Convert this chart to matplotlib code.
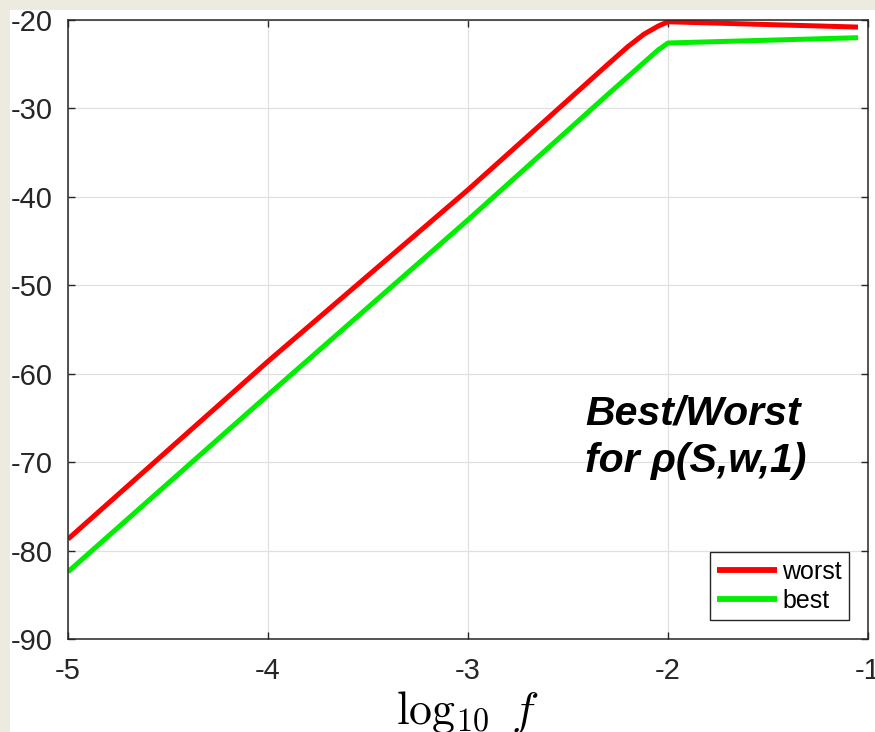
from matplotlib import pyplot as plt
from matplotlib.patches import Rectangle
import numpy as np

# log10 f and level readings for the two curves
log_f = [-5.0, -4.0, -3.0, -2.3, -2.2, -2.12, -2.05, -2.0, -1.05]
worst = [-78.7, -58.6, -39.2, -25.0, -23.0, -21.6, -20.7, -20.2, -20.8]
best = [-82.4, -62.4, -42.6, -28.4, -26.4, -24.8, -23.4, -22.6, -22.0]

x_ticks = [-5, -4, -3, -2, -1]
y_ticks = [-90, -80, -70, -60, -50, -40, -30, -20]

plt.rcParams['font.family'] = ['Liberation Sans', 'DejaVu Sans']
plt.rcParams['mathtext.fontset'] = 'cm'

fig = plt.figure(figsize=(8.75, 7.32), dpi=100)
fig.patch.set_facecolor('#edeae0')
fig.patches.append(Rectangle((10 / 875, 0), 1, 1 - 10 / 732, transform=fig.transFigure,
                             facecolor='white', edgecolor='none', zorder=-1))

ax = fig.add_axes([68 / 875, 1 - 639 / 732, 800 / 875, 619 / 732])
ax.plot(log_f, worst, color='#ff0000', lw=3.6, label='worst', solid_capstyle='butt')
ax.plot(log_f, best, color='#00ee00', lw=3.6, label='best', solid_capstyle='butt')

ax.set_xlim(-5, -1)
ax.set_ylim(-90, -20)
ax.set_xticks(x_ticks)
ax.set_yticks(y_ticks)
ax.set_xticklabels([str(t) for t in x_ticks])
ax.set_yticklabels([str(t) for t in y_ticks])
ax.grid(True, color='#e0e0e0', lw=0.9)
ax.set_axisbelow(True)
ax.tick_params(direction='in', length=5, width=1, top=True, right=True,
               labelsize=21, colors='#262626', pad=11)
ax.tick_params(axis='x', pad=13)
for s in ax.spines.values():
    s.set_color('#262626')
    s.set_linewidth(1.1)

ax.set_xlabel(r'$\log_{10}\ f$', fontsize=33, labelpad=3)

ax.text(-2.415, -62.4, 'Best/Worst\nfor ρ(S,w,1)', fontsize=29.5, fontweight='bold',
        fontstyle='italic', va='top', ha='left', linespacing=1.3)

leg = ax.legend(loc='lower right', fontsize=18, frameon=True, fancybox=False,
                edgecolor='#262626', framealpha=1, borderaxespad=0.75,
                handlelength=2.4, handletextpad=0.2, labelspacing=0.2,
                borderpad=0.3)
leg.get_frame().set_linewidth(1.0)
for h in leg.get_lines():
    h.set_linewidth(4.2)

fig.savefig('out.png', dpi=100)
